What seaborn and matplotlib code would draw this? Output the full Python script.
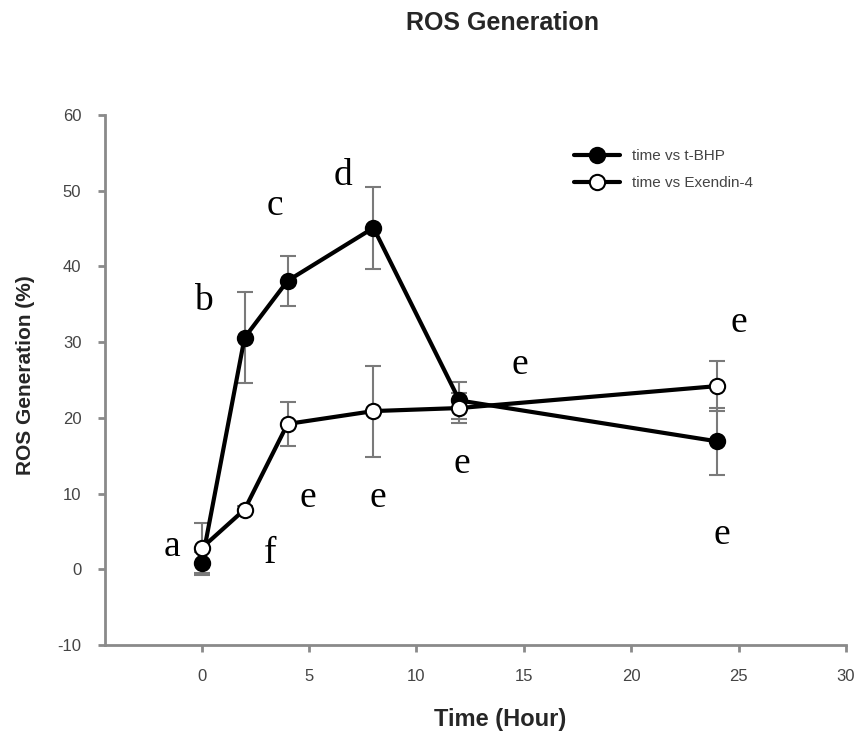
import matplotlib
matplotlib.use("Agg")
import matplotlib.pyplot as plt
import seaborn as sns
import numpy as np
import pandas as pd

# ---- data ----
time_h = [0, 2, 4, 8, 12, 24]
tbhp = [0.8, 30.6, 38.1, 45.1, 22.3, 16.9]
tbhp_err = [1.5, 6.0, 3.3, 5.4, 2.5, 4.4]
exendin = [2.8, 7.9, 19.2, 20.9, 21.3, 24.2]
exendin_err = [3.3, 0.5, 2.9, 6.0, 2.0, 3.3]

series_names = ["time vs t-BHP", "time vs Exendin-4"]

letters = ["a", "b", "c", "d", "e", "e", "e", "e", "e", "e", "f"]
letter_x = [-1.4, 0.1, 3.4, 6.6, 14.8, 25.0, 4.95, 8.2, 12.1, 24.2, 3.2]
letter_y = [3.0, 35.5, 48.0, 52.0, 27.0, 32.5, 9.4, 9.4, 13.9, 4.6, 2.0]

xticks = [0, 5, 10, 15, 20, 25, 30]
yticks = [-10, 0, 10, 20, 30, 40, 50, 60]

# ---- style ----
sns.set_style("ticks")
plt.rcParams["font.family"] = ["Liberation Sans", "DejaVu Sans"]
plt.rcParams["axes.unicode_minus"] = False

fig = plt.figure(figsize=(8.59, 7.35), dpi=100)
ax = fig.add_axes([0.1222, 0.1224, 0.8627, 0.7211])

df1 = pd.DataFrame({"time": time_h, "val": tbhp})
df2 = pd.DataFrame({"time": time_h, "val": exendin})

ax.errorbar(time_h, tbhp, yerr=tbhp_err, fmt="none", ecolor="#7a7a7a",
            elinewidth=1.5, capsize=6, capthick=1.5, zorder=1)
ax.errorbar(time_h, exendin, yerr=exendin_err, fmt="none", ecolor="#7a7a7a",
            elinewidth=1.5, capsize=6, capthick=1.5, zorder=1)

sns.lineplot(data=df1, x="time", y="val", ax=ax, color="black", linewidth=3,
             marker="o", markersize=11, markerfacecolor="black",
             markeredgecolor="black", markeredgewidth=1.5,
             label=series_names[0], zorder=3)
sns.lineplot(data=df2, x="time", y="val", ax=ax, color="black", linewidth=3,
             marker="o", markersize=11, markerfacecolor="white",
             markeredgecolor="black", markeredgewidth=1.5,
             label=series_names[1], zorder=3)

for t, lx, ly in zip(letters, letter_x, letter_y):
    ax.text(lx, ly, t, family="Liberation Serif", fontsize=27,
            ha="center", va="center", color="black")

ax.set_xlim(-4.5, 30)
ax.set_ylim(-10, 60)
ax.set_xticks(xticks)
ax.set_yticks(yticks)

for side in ["top", "right"]:
    ax.spines[side].set_visible(False)
for side in ["left", "bottom"]:
    ax.spines[side].set_color("#8a8a8a")
    ax.spines[side].set_linewidth(2)
ax.tick_params(axis="both", direction="out", length=5, width=2,
               color="#8a8a8a", labelcolor="#444444", labelsize=12, pad=12)

ax.set_xlabel("")
ax.set_ylabel("")

fig.text(0.03, 0.49, "ROS Generation (%)", fontsize=15, fontweight="bold",
         ha="center", va="center", rotation=90)
fig.text(0.582, 0.021, "Time (Hour)", fontsize=17, fontweight="bold",
         ha="center", va="center")
fig.text(0.585, 0.969, "ROS Generation", fontsize=18, fontweight="bold",
         ha="center", va="center")

leg = ax.legend(loc="upper left", bbox_to_anchor=(0.633, 0.935), frameon=False,
                fontsize=11, handlelength=3.0, handletextpad=0.8,
                labelspacing=0.85, borderaxespad=0, borderpad=0)
for txt in leg.get_texts():
    txt.set_color("#444444")

fig.savefig("out.png", dpi=100)
